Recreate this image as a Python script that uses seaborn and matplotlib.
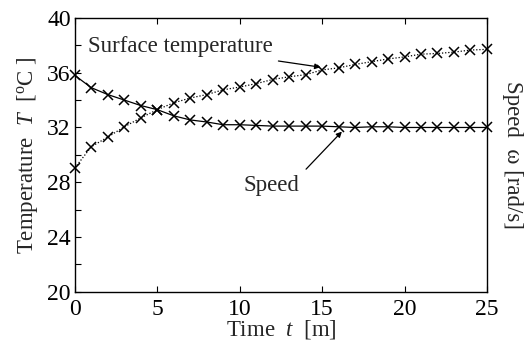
import matplotlib
matplotlib.use("Agg")
import matplotlib.pyplot as plt
import seaborn as sns
import pandas as pd
from matplotlib.ticker import MultipleLocator

sns.set_theme(style="ticks")
plt.rcParams['font.family'] = ['Liberation Serif', 'DejaVu Serif']
plt.rcParams['mathtext.fontset'] = 'custom'
plt.rcParams['mathtext.rm'] = 'Liberation Serif'
plt.rcParams['mathtext.it'] = 'Liberation Serif:italic'

time_min = list(range(26))
surface_temp = [29.05, 30.6, 31.3, 32.05, 32.7, 33.3, 33.8, 34.15, 34.4, 34.75,
                34.95, 35.2, 35.5, 35.7, 35.85, 36.2, 36.35, 36.6, 36.8, 37.0,
                37.15, 37.35, 37.4, 37.5, 37.65, 37.7]
speed = [35.8, 34.9, 34.4, 34.0, 33.6, 33.3, 32.85, 32.55, 32.4, 32.2,
         32.2, 32.15, 32.1, 32.1, 32.1, 32.1, 32.05, 32.0, 32.05, 32.05,
         32.0, 32.0, 32.0, 32.0, 32.0, 32.0]

df_t = pd.DataFrame({"t": time_min, "v": surface_temp})
df_s = pd.DataFrame({"t": time_min, "v": speed})

fig = plt.figure(figsize=(5.31, 3.5), dpi=100)
ax = fig.add_axes([0.141, 0.166, 0.776, 0.783])

sns.lineplot(data=df_t, x="t", y="v", ax=ax, color="black", linestyle=(0, (1, 1.5)),
             linewidth=0.9, marker="x", markersize=7.5, markeredgewidth=1.1,
             markeredgecolor="black", clip_on=False)
sns.lineplot(data=df_s, x="t", y="v", ax=ax, color="black", linestyle="-",
             linewidth=0.9, marker="x", markersize=7.5, markeredgewidth=1.1,
             markeredgecolor="black", clip_on=False)

ax.set_xlim(0, 25)
ax.set_ylim(20, 40)
ax.set_xticks([0, 5, 10, 15, 20, 25])
ax.set_yticks([20, 24, 28, 32, 36, 40])
ax.yaxis.set_minor_locator(MultipleLocator(2))
ax.tick_params(axis="both", which="both", direction="in", labelsize=17, length=4,
               width=0.8, colors="black")
ax.tick_params(axis="y", which="both", right=True, pad=3)
ax.tick_params(axis="x", top=True, pad=5)
for sp in ax.spines.values():
    sp.set_linewidth(1.0)
    sp.set_color("black")

ax.set_xlabel("Time  $t$  [m]", fontsize=16.5, labelpad=-1)
ax.set_ylabel("Temperature  $T$  [$^{\\rm o}$C ]", fontsize=16.5, labelpad=5)

ax2 = ax.twinx()
ax2.set_ylim(20, 40)
ax2.set_yticks([])
ax2.set_ylabel("Speed  ω [rad/s]", fontsize=16.5, rotation=270, labelpad=26)
for sp in ax2.spines.values():
    sp.set_visible(False)

ax.annotate("Surface temperature", xy=(14.9, 36.4), xytext=(0.8, 37.9),
            fontsize=16.5, ha="left", va="center",
            arrowprops=dict(arrowstyle="-|>", color="black", lw=0.9,
                            shrinkA=3, shrinkB=0, mutation_scale=8))
ax.annotate("Speed", xy=(16.2, 31.7), xytext=(11.9, 27.8),
            fontsize=16.5, ha="center", va="center",
            arrowprops=dict(arrowstyle="-|>", color="black", lw=0.9,
                            shrinkA=4, shrinkB=0, mutation_scale=8,
                            relpos=(1.0, 0.9)))

fig.savefig("out.png", dpi=100)
